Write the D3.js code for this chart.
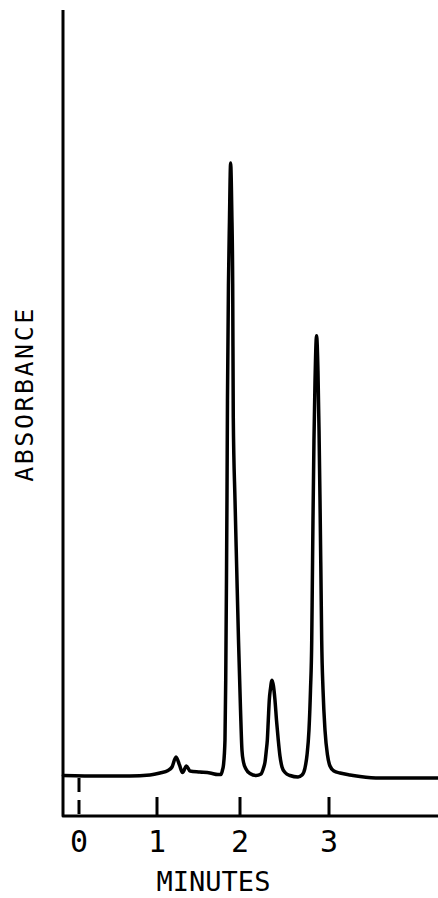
<!DOCTYPE html>
<html>
<head>
<meta charset="utf-8">
<script src="https://cdn.jsdelivr.net/npm/d3@7"></script>
<style>
  html, body { margin: 0; padding: 0; background: #fff; }
  svg { display: block; }
  text { font-family: "DejaVu Sans Mono", monospace; fill: #000; }
</style>
</head>
<body>
<svg id="chart" width="438" height="898"></svg>
<script>
// ---- data ----
const timeMin = [
  -0.20, 0.27, 0.65, 0.91, 1.036, 1.133, 1.181, 1.229, 1.271, 1.307, 1.355, 1.398,
  1.518, 1.639, 1.735, 1.771, 1.789, 1.801, 1.819, 1.828, 1.837, 1.843, 1.849,
  1.861, 1.873, 1.887, 1.901, 1.912, 1.919, 1.940, 1.960, 1.982, 2.006, 2.022,
  2.039, 2.067, 2.112, 2.180, 2.236, 2.264, 2.281, 2.296, 2.307, 2.318, 2.329,
  2.343, 2.360, 2.376, 2.393, 2.410, 2.430, 2.449, 2.472, 2.506, 2.562, 2.652,
  2.697, 2.730, 2.753, 2.775, 2.792, 2.806, 2.812, 2.820, 2.831, 2.843, 2.860,
  2.876, 2.888, 2.899, 2.910, 2.918, 2.933, 2.955, 2.983, 3.011, 3.056, 3.124,
  3.236, 3.348, 3.573, 3.910, 4.225
];
const absorbance = [
  0.1, 0, 0, 0.16, 0.49, 0.90, 1.47, 3.09, 1.79, 0.57, 1.63, 0.81,
  0.65, 0.49, 0.24, 0.24, 0.98, 1.79, 5.86, 15.6, 31.9, 44.95, 61.2,
  80.3, 90.55, 100, 92.3, 80.3, 58.5, 44.95, 34.0, 22.15, 10.75, 4.23,
  2.28, 1.14, 0.41, 0.08, 0.33, 1.30, 2.28, 4.23, 5.86, 9.12, 12.38,
  14.33, 15.64, 14.66, 12.38, 9.12, 5.86, 3.26, 1.47, 0.57, 0.08, -0.16,
  0.16, 1.30, 3.42, 7.49, 14.0, 22.15, 30.3, 41.7, 54.7, 64.5, 71.8,
  66.1, 56.35, 44.95, 31.9, 22.15, 14.0, 7.49, 3.42, 1.63, 0.81, 0.49,
  0.16, -0.08, -0.33, -0.33, -0.33
];
const tickValues = [0, 1, 2, 3];
const tickLabels = ["0", "1", "2", "3"];
const xTitle = "MINUTES";
const yTitle = "ABSORBANCE";

// ---- layout ----
const axisLeft = 63, axisTop = 10, axisBottom = 816, axisRight = 438;

const svg = d3.select("#chart");

// hand-drawn time axis: tick spacing is slightly uneven in the original
const x = d3.scaleLinear().domain(tickValues).range([79, 157, 240, 329]);
const y = d3.scaleLinear().domain([0, 100]).range([776, 163]);

// frame: left axis and bottom axis
svg.append("path")
  .attr("d", `M${axisLeft},${axisTop} L${axisLeft},${axisBottom} L${axisRight},${axisBottom}`)
  .attr("fill", "none").attr("stroke", "#000").attr("stroke-width", 3)
  .attr("stroke-linejoin", "round").attr("stroke-linecap", "butt");

// ticks
tickValues.forEach((t, i) => {
  const tx = x(t);
  if (t === 0) {
    svg.append("line")
      .attr("x1", tx).attr("x2", tx).attr("y1", 778).attr("y2", axisBottom)
      .attr("stroke", "#000").attr("stroke-width", 3)
      .attr("stroke-dasharray", "14 8");
  } else {
    svg.append("line")
      .attr("x1", tx).attr("x2", tx).attr("y1", 797).attr("y2", axisBottom)
      .attr("stroke", "#000").attr("stroke-width", 3);
  }
  svg.append("text")
    .attr("x", tx).attr("y", 852)
    .attr("text-anchor", "middle")
    .attr("font-size", 30)
    .text(tickLabels[i]);
});

// trace
const pts = timeMin.map((t, i) => [t, absorbance[i]]);
const line = d3.line()
  .x(d => x(d[0]))
  .y(d => y(d[1]))
  .curve(d3.curveMonotoneX);
svg.append("path")
  .datum(pts)
  .attr("d", line)
  .attr("fill", "none")
  .attr("stroke", "#000")
  .attr("stroke-width", 3.5)
  .attr("stroke-linejoin", "round")
  .attr("stroke-linecap", "round");

// titles
svg.append("text")
  .attr("x", 213.5).attr("y", 891)
  .attr("text-anchor", "middle")
  .attr("font-size", 27)
  .text(xTitle);

svg.append("text")
  .attr("transform", "translate(33,394) rotate(-90)")
  .attr("text-anchor", "middle")
  .attr("font-size", 25)
  .attr("letter-spacing", 2.5)
  .text(yTitle);
</script>
</body>
</html>
